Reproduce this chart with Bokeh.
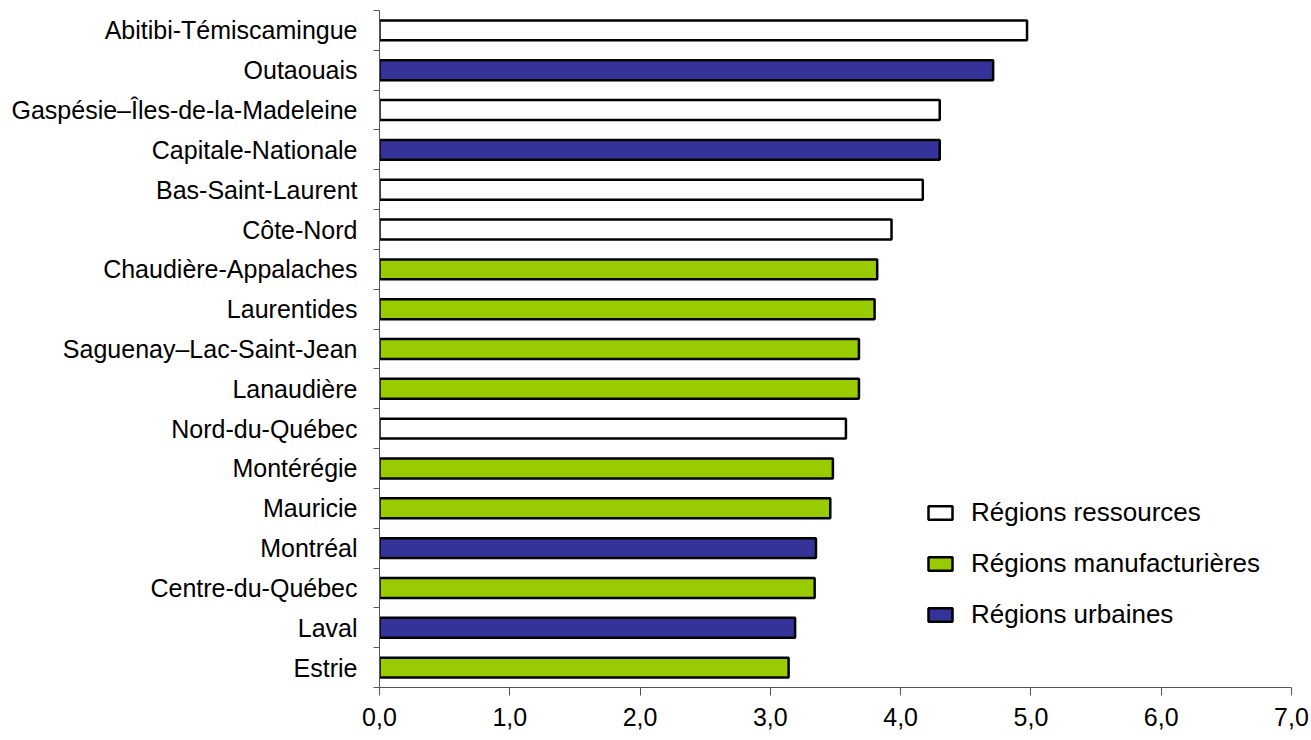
from bokeh.plotting import figure
from bokeh.models import ColumnDataSource, FixedTicker, Range1d, Legend, LegendItem
from bokeh.embed import file_html
from bokeh.resources import INLINE

regions = ["Abitibi-Témiscamingue", "Outaouais", "Gaspésie–Îles-de-la-Madeleine",
           "Capitale-Nationale", "Bas-Saint-Laurent", "Côte-Nord", "Chaudière-Appalaches",
           "Laurentides", "Saguenay–Lac-Saint-Jean", "Lanaudière", "Nord-du-Québec",
           "Montérégie", "Mauricie", "Montréal", "Centre-du-Québec", "Laval", "Estrie"]
values = [4.97, 4.71, 4.30, 4.30, 4.17, 3.93, 3.82, 3.80, 3.68, 3.68, 3.58,
          3.48, 3.46, 3.35, 3.34, 3.19, 3.14]
types = ["res", "urb", "res", "urb", "res", "res", "man", "man", "man", "man", "res",
         "man", "man", "urb", "man", "urb", "man"]
type_labels = {"res": "Régions ressources", "man": "Régions manufacturières", "urb": "Régions urbaines"}
type_colors = {"res": "#FFFFFF", "man": "#99CC00", "urb": "#333399"}
x_ticks = [0, 1, 2, 3, 4, 5, 6, 7]
x_tick_labels = ["0,0", "1,0", "2,0", "3,0", "4,0", "5,0", "6,0", "7,0"]

n = len(regions)
ypos = [n - 1 - i for i in range(n)]
FS = "25px"
FONT = "Liberation Sans"

p = figure(width=1311, height=738, output_backend="svg", toolbar_location=None,
           x_range=Range1d(0, 7), y_range=Range1d(-0.5, n - 0.5),
           min_border_left=379, min_border_right=20, min_border_top=10, min_border_bottom=51)
p.outline_line_color = None
p.xgrid.visible = False
p.ygrid.visible = False
p.background_fill_color = "white"

items = []
for t in ["res", "man", "urb"]:
    idx = [i for i in range(n) if types[i] == t]
    src = ColumnDataSource(dict(y=[ypos[i] for i in idx], v=[values[i] for i in idx]))
    r = p.hbar(y="y", right="v", left=0, height=0.5, source=src,
               fill_color=type_colors[t], line_color="black", line_width=2.5)
    items.append(LegendItem(label=type_labels[t], renderers=[r]))

legend = Legend(items=items, location=(546, 57), padding=0, margin=0,
                glyph_width=30, glyph_height=17, spacing=20, label_standoff=16,
                label_text_font=FONT, label_text_font_size="26px",
                label_text_color="black", border_line_color=None, background_fill_alpha=0,
                label_height=17)
p.add_layout(legend, "center")

# x axis
p.xaxis.ticker = FixedTicker(ticks=x_ticks, minor_ticks=[])
p.xaxis.major_label_overrides = {x_ticks[i]: x_tick_labels[i] for i in range(len(x_ticks))}
p.xaxis.major_tick_in = 0
p.xaxis.major_tick_out = 8
p.xaxis.minor_tick_out = 0
p.xaxis.minor_tick_in = 0
p.xaxis.major_label_standoff = 12
p.xaxis.axis_line_color = "#555555"
p.xaxis.major_tick_line_color = "#555555"
p.xaxis.major_label_text_font = FONT
p.xaxis.major_label_text_font_size = FS
p.xaxis.major_label_text_color = "black"

# y axis
bounds = [k - 0.5 for k in range(n + 1)]
p.yaxis.ticker = FixedTicker(ticks=ypos, minor_ticks=bounds)
p.yaxis.major_label_overrides = {ypos[i]: regions[i] for i in range(n)}
p.yaxis.major_tick_in = 0
p.yaxis.major_tick_out = 0
p.yaxis.minor_tick_in = 0
p.yaxis.minor_tick_out = 6
p.yaxis.minor_tick_line_color = "#555555"
p.yaxis.axis_line_color = "#555555"
p.yaxis.major_label_standoff = 16
p.yaxis.major_label_text_font = FONT
p.yaxis.major_label_text_font_size = FS
p.yaxis.major_label_text_color = "black"

open("out.html", "w").write(file_html(p, INLINE))
